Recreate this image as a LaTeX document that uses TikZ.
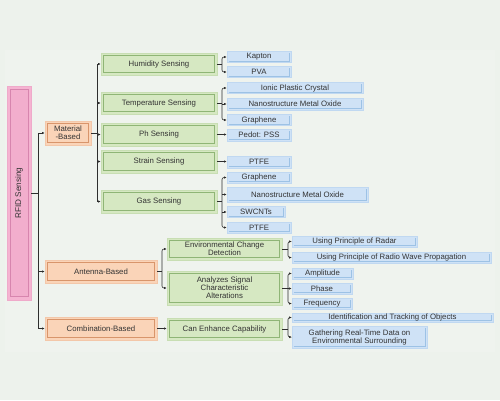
\documentclass[tikz,border=0pt]{standalone}
\usepackage{fontspec}
\setmainfont{Liberation Sans}
\usetikzlibrary{arrows.meta}
\definecolor{bgc}{HTML}{EDF2EC}
\definecolor{panelc}{HTML}{EFF3EE}
\definecolor{pinkf}{HTML}{F5B3D1}
\definecolor{pinkd}{HTML}{D785AE}
\definecolor{orf}{HTML}{FAD4B8}
\definecolor{ord}{HTML}{D8956B}
\definecolor{grf}{HTML}{D6E8C2}
\definecolor{grd}{HTML}{8FB576}
\definecolor{blf}{HTML}{CFE2F6}
\definecolor{bld}{HTML}{9DC2E5}
\definecolor{txt}{HTML}{333333}
\definecolor{lnc}{HTML}{2E2E2E}
\tikzset{
  every node/.style={font=\fontsize{7.8}{8}\selectfont, text=txt, align=center, inner sep=0pt},
  framed/.style={fill=#1f, draw=#1f!80!#1d,
    path picture={\draw[#1d, line width=0.7pt]
      ([shift={(2.5pt,2.5pt)}]path picture bounding box.south west) rectangle
      ([shift={(-2.5pt,-2.5pt)}]path picture bounding box.north east);}},
  pinkbox/.style={fill=pinkf, draw=pinkf!80!pinkd,
    path picture={\draw[pinkd, line width=0.8pt, fill=pinkf!90!pinkd]
      ([shift={(3pt,3.5pt)}]path picture bounding box.south west) rectangle
      ([shift={(-3pt,-3.5pt)}]path picture bounding box.north east);}},
  obox/.style={framed=or},
  gbox/.style={framed=gr},
  bbox/.style={fill=blf, draw=blf!70!bld,
    path picture={\draw[bld, line width=0.6pt]
      ([shift={(1.5pt,1.5pt)}]path picture bounding box.south west) -- 
      ([shift={(-1.5pt,1.5pt)}]path picture bounding box.south east) --
      ([shift={(-1.5pt,-1.5pt)}]path picture bounding box.north east);}},
  conn/.style={draw=lnc, line width=0.6pt},
  arr/.style={conn, -{Latex[length=2.6pt,width=2.2pt]}},
  barr/.style={conn, {Latex[length=2.6pt,width=2.2pt]}-{Latex[length=2.6pt,width=2.2pt]}, rounded corners=2pt},
}
\begin{document}
\begin{tikzpicture}[x=1pt,y=-1pt]
\fill[bgc] (0,0) rectangle (500,400);
\useasboundingbox (0,0) rectangle (500,400);
\fill[panelc] (5,50) rectangle (495,352);

% root
\node[pinkbox, minimum width=24pt, minimum height=214pt] (rfid) at (19,193) {};
\node[rotate=90, font=\fontsize{8.2}{9}\selectfont] (rfidt) at (rfid.center) {RFID Sensing};

% level 1
\node[obox, minimum width=46pt, minimum height=24pt] (mat) at (68,133) {Material\\-Based};
\node[obox, minimum width=112pt, minimum height=23pt] (ant) at (101,271.5) {Antenna-Based};
\node[obox, minimum width=112pt, minimum height=23pt] (com) at (101,328.5) {Combination-Based};

% level 2 material
\node[gbox, minimum width=116pt, minimum height=22pt] (hum) at (159,64) {Humidity Sensing};
\node[gbox, minimum width=116pt, minimum height=22pt] (tem) at (159,103) {Temperature Sensing};
\node[gbox, minimum width=116pt, minimum height=23pt] (ph) at (159,134.5) {Ph Sensing};
\node[gbox, minimum width=116pt, minimum height=23pt] (str) at (159,161.5) {Strain Sensing};
\node[gbox, minimum width=116pt, minimum height=23pt] (gas) at (159,201.5) {Gas Sensing};

% level 2 antenna/combination
\node[gbox, minimum width=115pt, minimum height=22pt] (env) at (224.5,249) {Environmental Change\\Detection};
\node[gbox, minimum width=115pt, minimum height=34pt] (ana) at (224.5,288) {Analyzes Signal\\Characteristic\\Alterations};
\node[gbox, minimum width=115pt, minimum height=22pt] (can) at (224.5,329) {Can Enhance Capability};

% leaves material
\node[bbox, minimum width=64pt, minimum height=11pt] (kap) at (259,57) {Kapton};
\node[bbox, minimum width=64pt, minimum height=11pt] (pva) at (259,72) {PVA};
\node[bbox, minimum width=136pt, minimum height=11pt] (ion) at (295,88) {Ionic Plastic Crystal};
\node[bbox, minimum width=136pt, minimum height=12pt] (nmo1) at (295,104) {Nanostructure Metal Oxide};
\node[bbox, minimum width=64pt, minimum height=11pt] (gra1) at (259,120) {Graphene};
\node[bbox, minimum width=64pt, minimum height=12pt] (ped) at (259,135) {Pedot: PSS};
\node[bbox, minimum width=64pt, minimum height=12pt] (ptf1) at (259,162) {PTFE};
\node[bbox, minimum width=64pt, minimum height=11pt] (gra2) at (259,177.5) {Graphene};
\node[bbox, minimum width=141pt, minimum height=15pt] (nmo2) at (297.5,194.5) {Nanostructure Metal Oxide};
\node[bbox, minimum width=58pt, minimum height=11pt] (swc) at (256,212) {SWCNTs};
\node[bbox, minimum width=64pt, minimum height=11pt] (ptf2) at (259,227.5) {PTFE};

% leaves antenna/combination
\node[bbox, minimum width=125pt, minimum height=11pt] (rad) at (354.5,241.5) {Using Principle of Radar};
\node[bbox, minimum width=199pt, minimum height=11pt] (rwp) at (391.5,257.5) {Using Principle of Radio Wave Propagation};
\node[bbox, minimum width=61pt, minimum height=11pt] (amp) at (322.5,273.5) {Amplitude};
\node[bbox, minimum width=60pt, minimum height=11pt] (pha) at (322,288.5) {Phase};
\node[bbox, minimum width=60pt, minimum height=11pt] (fre) at (322,303.5) {Frequency};
\node[bbox, minimum width=201pt, minimum height=9pt] (ide) at (392.5,317.5) {Identification and Tracking of Objects};
\node[bbox, minimum width=135pt, minimum height=22pt] (gat) at (359.5,337) {Gathering Real-Time Data on\\Environmental Surrounding};

% junction coordinates
\coordinate (j0) at (38,0);
\coordinate (j1) at (97,0);
\coordinate (j2) at (162,0);
\coordinate (j3) at (222,0);
\coordinate (j4) at (288,0);

% root -> level 1
\draw[conn] (rfid.east |- 0,193) -- (j0 |- 0,193);
\draw[conn] (j0 |- mat.west) -- (j0 |- com.west);
\draw[arr] (j0 |- mat.west) -- (mat.west);
\draw[arr] (j0 |- ant.west) -- (ant.west);
\draw[arr] (j0 |- com.west) -- (com.west);

% material -> level 2
\draw[conn] (mat.east) -- (j1 |- mat.east);
\draw[conn] (j1 |- hum.west) -- (j1 |- gas.west);
\draw[arr] (j1 |- hum.west) -- (hum.west);
\draw[arr] (j1 |- tem.west) -- (tem.west);
\draw[arr] (j1 |- ph.west) -- (ph.west);
\draw[arr] (j1 |- str.west) -- (str.west);
\draw[arr] (j1 |- gas.west) -- (gas.west);

% antenna -> level 2
\draw[conn] (ant.east) -- (j2 |- ant.east);
\draw[barr] (env.west) -- (j2 |- env.west) -- (j2 |- ana.west) -- (ana.west);
\draw[arr] (com.east) -- (can.west |- com.east);

% humidity
\draw[conn] (hum.east) -- (j3 |- hum.east);
\draw[barr] (kap.west) -- (j3 |- kap.west) -- (j3 |- pva.west) -- (pva.west);
% temperature
\draw[conn] (tem.east) -- (j3 |- tem.east);
\draw[barr] (ion.west) -- (j3 |- ion.west) -- (j3 |- gra1.west) -- (gra1.west);
\draw[arr] (j3 |- nmo1.west) -- (nmo1.west);
% ph, strain
\draw[arr] (ph.east) -- (ped.west |- ph.east);
\draw[arr] (str.east) -- (ptf1.west |- str.east);
% gas
\draw[conn] (gas.east) -- (j3 |- gas.east);
\draw[barr] (gra2.west) -- (j3 |- gra2.west) -- (j3 |- ptf2.west) -- (ptf2.west);
\draw[arr] (j3 |- nmo2.west) -- (nmo2.west);
\draw[arr] (j3 |- swc.west) -- (swc.west);

% environmental
\draw[conn] (env.east) -- (j4 |- env.east);
\draw[barr] (rad.west) -- (j4 |- rad.west) -- (j4 |- rwp.west) -- (rwp.west);
% analyzes
\draw[conn] (ana.east) -- (j4 |- ana.east);
\draw[barr] (amp.west) -- (j4 |- amp.west) -- (j4 |- fre.west) -- (fre.west);
\draw[arr] (j4 |- pha.west) -- (pha.west);
% can enhance
\draw[conn] (can.east) -- (j4 |- can.east);
\draw[barr] (ide.west) -- (j4 |- ide.west) -- (j4 |- gat.west) -- (gat.west);
\end{tikzpicture}
\end{document}
